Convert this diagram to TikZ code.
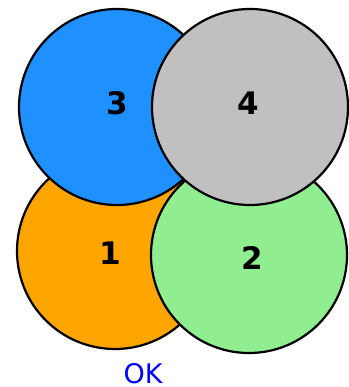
\documentclass[tikz,border=0pt]{standalone}
\usepackage{fontspec}
\setmainfont{DejaVu Sans}
\usepackage{tikz}
\usetikzlibrary{positioning}
\usepackage{xcolor}
\definecolor{zone1}{HTML}{FFA500}
\definecolor{zone2}{HTML}{90EE90}
\definecolor{zone3}{HTML}{1E90FF}
\definecolor{zone4}{HTML}{C0C0C0}
\definecolor{okblue}{HTML}{0000FF}

\begin{document}
\begin{tikzpicture}[
    x=1pt, y=-1pt,
    zone/.style={draw, circle, minimum size=196pt, inner sep=0, line width=2.2pt},
    num/.style={font=\fontsize{31}{31}\selectfont\bfseries, inner sep=0}
]
\useasboundingbox (0,0) rectangle (348,387);
% four overlapping zones, drawn bottom to top
\foreach \n/\x/\y/\tx/\ty in {1/115/251/110/253, 3/117/107/117/103, 2/249/255/252/258, 4/250/107/248/103} {
  \node[zone, fill=zone\n] (z\n) at (\x, \y) {};
  \node[num] (n\n) at (\tx, \ty) {\n};
}
\node[font=\fontsize{27}{27}\selectfont, text=okblue, inner sep=0] (ok) at (143, 374) {OK};
\end{tikzpicture}
\end{document}
